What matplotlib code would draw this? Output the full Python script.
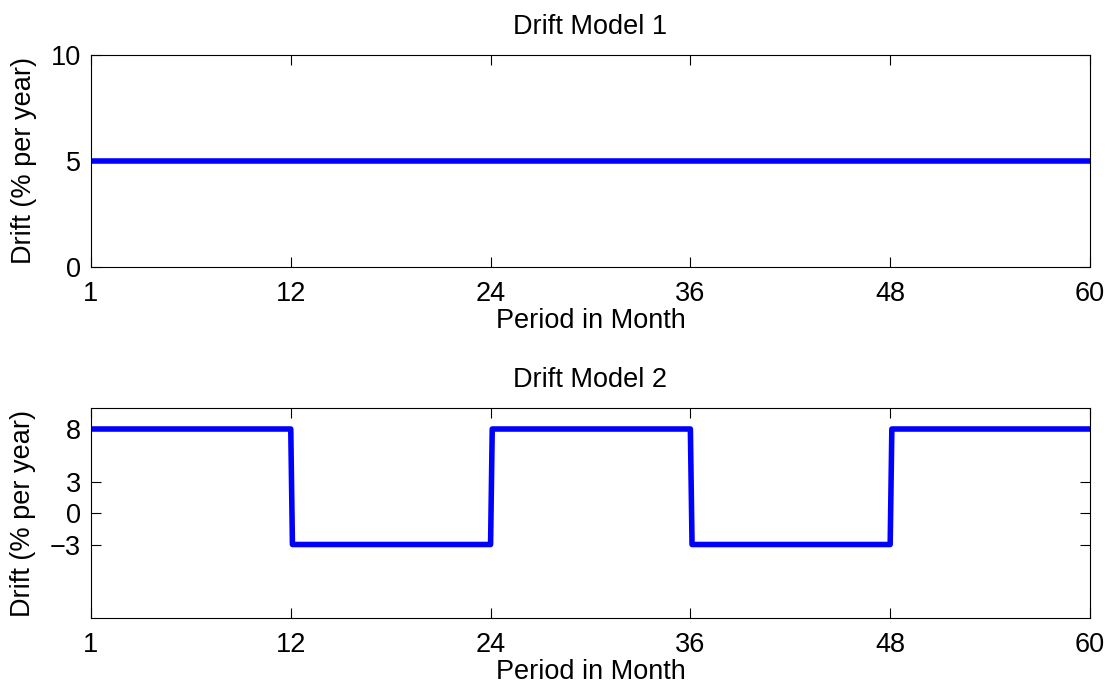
import numpy as np
import matplotlib.pyplot as plt

plt.rcParams['font.family'] = ['Liberation Sans', 'DejaVu Sans']
plt.rcParams['font.size'] = 19.5

# model 1: constant drift
months1 = [0, 60]
drift1 = [5, 5]

# model 2: switching drift
months2 = [0, 12, 12.1, 24, 24.1, 36, 36.1, 48, 48.1, 60]
drift2 = [8, 8, -3, -3, 8, 8, -3, -3, 8, 8]

xticks = [0, 12, 24, 36, 48, 60]
xticklabels = ["1", "12", "24", "36", "48", "60"]

fig = plt.figure(figsize=(11.12, 6.94), dpi=100)
ax1 = fig.add_axes([0.0818, 0.6153, 0.8984, 0.3055])
ax2 = fig.add_axes([0.0818, 0.1095, 0.8984, 0.3026])

ax1.plot(months1, drift1, color='#0000ff', lw=4)
ax1.set_ylim(0, 10)
ax1.set_yticks([0, 5, 10])
ax1.set_title("Drift Model 1", fontsize=19.5, pad=15)

ax2.plot(months2, drift2, color='#0000ff', lw=4)
ax2.set_ylim(-10, 10)
ax2.set_yticks([-3, 0, 3, 8])
ax2.set_title("Drift Model 2", fontsize=19.5, pad=15)

for ax in (ax1, ax2):
    ax.set_xlim(0, 60)
    ax.set_xticks(xticks)
    ax.set_xticklabels(xticklabels)
    ax.set_xlabel("Period in Month", labelpad=1)
    ax.set_ylabel("Drift (% per year)", labelpad=10)
    ax.tick_params(direction='in', length=7, top=True, right=True, width=0.8)
    ax.tick_params(axis='x', pad=10)
    ax.tick_params(axis='y', pad=7)
    for s in ax.spines.values():
        s.set_linewidth(0.8)

fig.savefig("out.png", dpi=100)
